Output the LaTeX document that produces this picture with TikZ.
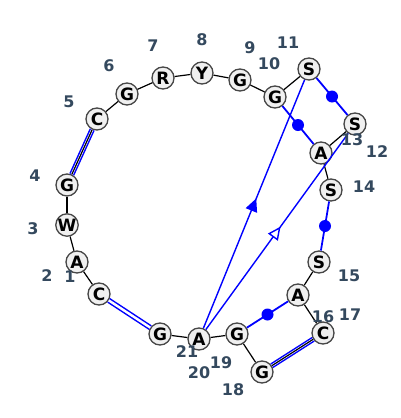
\documentclass[tikz,border=0pt]{standalone}
\usepackage{fontspec}
\setmainfont{DejaVu Sans}
\usetikzlibrary{arrows.meta,decorations.markings}

\definecolor{nucfill}{RGB}{240,240,240}
\definecolor{nucdraw}{RGB}{70,70,70}
\definecolor{numcol}{RGB}{52,73,94}

\begin{document}
\begin{tikzpicture}[x=1pt,y=-1pt,
    nuc/.style={shape=circle,fill=nucfill,draw=nucdraw,line width=1.3pt,
                minimum size=22pt,inner sep=0pt,font=\bfseries\fontsize{17}{17}\selectfont},
    num/.style={text=numcol,font=\bfseries\fontsize{16}{16}\selectfont},
    bb/.style={draw=black,line width=1.2pt},
    pair/.style={draw=blue,line width=1.5pt,double=white,double distance=2.4pt},
    pk/.style={draw=blue,line width=1.8pt},
    dot/.style={shape=circle,fill=blue,draw=none,minimum size=12pt,inner sep=0pt},
    linkfull/.style={draw=blue,line width=1.4pt,postaction={decorate},
      decoration={markings,mark=at position 0.5 with
        {\arrow[xshift=6pt]{Triangle[length=13pt,width=12pt]}}}},
    linkopen/.style={draw=blue,line width=1.4pt,postaction={decorate},
      decoration={markings,mark=at position 0.5 with
        {\arrow[xshift=6pt]{Triangle[length=13pt,width=12pt,fill=white]}}}}]

  \useasboundingbox (0,0) rectangle (400,418);

  % nucleotides
  \node[nuc] (n1)  at (99,294)  {C};
  \node[nuc] (n2)  at (77,262)  {A};
  \node[nuc] (n3)  at (67,225)  {W};
  \node[nuc] (n4)  at (67,185)  {G};
  \node[nuc] (n5)  at (97,119)  {C};
  \node[nuc] (n6)  at (127,94)  {G};
  \node[nuc] (n7)  at (163,78)  {R};
  \node[nuc] (n8)  at (202,73)  {Y};
  \node[nuc] (n9)  at (240,80)  {G};
  \node[nuc] (n10) at (275,97)  {G};
  \node[nuc] (n11) at (309,69)  {S};
  \node[nuc] (n12) at (355,124) {S};
  \node[nuc] (n13) at (321,153) {A};
  \node[nuc] (n14) at (331,190) {S};
  \node[nuc] (n15) at (319,262) {S};
  \node[nuc] (n16) at (298,295) {A};
  \node[nuc] (n17) at (323,333) {C};
  \node[nuc] (n18) at (262,372) {G};
  \node[nuc] (n19) at (237,334) {G};
  \node[nuc] (n20) at (199,339) {A};
  \node[nuc] (n21) at (160,334) {G};

  % pairs
  \path (n4) edge[pair] (n5)
        (n17) edge[pair] (n18)
        (n21) edge[pair] (n1);

  % backbone
  \path (n1) edge[bb] (n2)
        (n2) edge[bb] (n3)
        (n3) edge[bb] (n4)
        (n4) edge[bb] (n5)
        (n5) edge[bb] (n6)
        (n6) edge[bb] (n7)
        (n7) edge[bb] (n8)
        (n8) edge[bb] (n9)
        (n9) edge[bb] (n10)
        (n10) edge[bb] (n11)
        (n12) edge[bb] (n13)
        (n13) edge[bb] (n14)
        (n15) edge[bb] (n16)
        (n16) edge[bb] (n17)
        (n17) edge[bb] (n18)
        (n18) edge[bb] (n19)
        (n19) edge[bb] (n20)
        (n20) edge[bb] (n21);

  % noncanonical links
  \path (n11) edge[pk] node[dot] {} (n12)
        (n10) edge[pk] node[dot] {} (n13)
        (n14) edge[pk] node[dot] {} (n15)
        (n19) edge[pk] node[dot] {} (n16);

  \path (n20) edge[linkfull] (n11)
        (n20) edge[linkopen] (n12);

  % numbers
  \node[num] (l1)  at (70,277)  {1};
  \node[num] (l2)  at (47,276)  {2};
  \node[num] (l3)  at (33,229)  {3};
  \node[num] (l4)  at (35,176)  {4};
  \node[num] (l5)  at (69,102)  {5};
  \node[num] (l6)  at (109,66)  {6};
  \node[num] (l7)  at (153,46)  {7};
  \node[num] (l8)  at (202,40)  {8};
  \node[num] (l9)  at (250,48)  {9};
  \node[num] (l10) at (269,64)  {10};
  \node[num] (l11) at (288,43)  {11};
  \node[num] (l12) at (377,152) {12};
  \node[num] (l13) at (352,140) {13};
  \node[num] (l14) at (364,187) {14};
  \node[num] (l15) at (349,276) {15};
  \node[num] (l16) at (323,317) {16};
  \node[num] (l17) at (350,315) {17};
  \node[num] (l18) at (233,390) {18};
  \node[num] (l19) at (221,363) {19};
  \node[num] (l20) at (199,373) {20};
  \node[num] (l21) at (187,352) {21};
\end{tikzpicture}
\end{document}
